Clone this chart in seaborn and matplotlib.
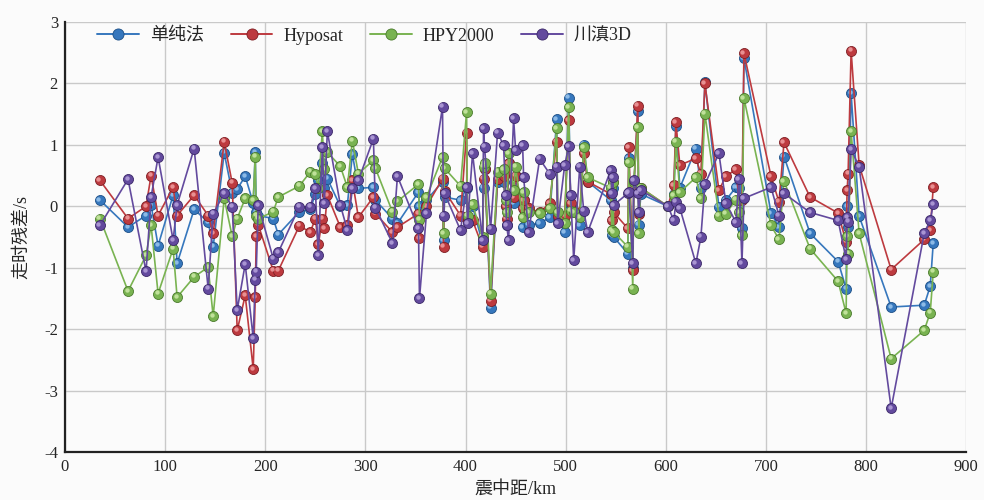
import numpy as np
import pandas as pd
import seaborn as sns
import matplotlib
matplotlib.use('Agg')
import matplotlib.pyplot as plt
from matplotlib.lines import Line2D
from matplotlib.transforms import offset_copy

# epicentral distance (km) of each station
dist = [35, 63, 81, 86, 93, 108, 112, 129, 143, 148,
        159, 167, 172, 180, 188, 190, 191, 193, 208, 213,
        234, 245, 250, 253, 257, 259, 262, 275, 282, 287,
        293, 308, 310, 327, 332, 353, 354, 361, 377, 378,
        379, 395, 401, 402, 407, 417, 418, 419, 425, 432,
        438, 440, 441, 443, 448, 450, 457, 458, 463, 474,
        484, 491, 492, 499, 503, 505, 508, 514, 518, 522,
        545, 546, 547, 548, 562, 563, 567, 568, 572, 573,
        575, 602, 608, 610, 614, 630, 635, 639, 653, 660,
        670, 673, 676, 678, 705, 713, 718, 744, 772, 780,
        781, 782, 785, 793, 825, 858, 864, 867]

# travel time residuals (s)
res_simple = [.10, -.34, -.15, .02, -.64, .18, -.93, -.05, -.26, -.66,
              .87, .22, .28, .49, .05, .88, -.10, -.15, -.20, -.46,
              -.09, -.05, .20, .42, .70, .30, .45, .00, .02, .85,
              .29, .31, .10, -.20, -.28, .23, .00, .10, .40, -.55,
              .15, .10, .30, -.20, .00, -.60, .30, .60, -1.65, .40,
              .40, .00, -.30, .70, .05, .50, -.34, .10, -.30, -.28,
              -.18, 1.42, -.20, -.42, 1.77, .00, -.10, -.31, 1.00, .40,
              .10, -.47, .30, -.50, -.77, .78, -1.00, .30, 1.55, -.30,
              .20, .00, .20, 1.30, .30, .94, .30, 2.02, -.01, .10,
              .31, .30, -.36, 2.41, -.11, -.34, .81, -.44, -.90, -1.34,
              .00, -.34, 1.84, -.16, -1.64, -1.61, -1.30, -.60]

res_hyposat = [.42, -.20, .00, .50, -.15, .31, -.15, .18, -.15, -.44,
               1.05, .38, -2.02, -1.45, -2.65, -1.48, -.49, -.30, -1.05, -1.05,
               -.32, -.42, -.20, -.62, -.20, -.36, .18, -.34, -.31, .42,
               -.18, .15, -.12, -.42, -.34, -.12, -.52, .00, .45, -.66,
               .25, -.15, 1.20, -.23, -.23, -.66, .45, .60, -1.54, .45,
               .50, .00, -.20, .70, .15, .50, -.03, .10, -.03, -.10,
               .05, 1.05, -.15, -.15, 1.40, .05, -.10, -.10, .86, .40,
               .20, -.23, .40, -.10, -.36, .96, -1.04, .30, 1.64, -.12,
               .30, .00, .34, 1.37, .67, .78, .53, 2.00, .26, .49,
               .60, .10, .10, 2.49, .49, .07, 1.04, .15, -.11, -.58,
               .26, .53, 2.53, .67, -1.03, -.54, -.39, .31]

res_hpy2000 = [-.20, -1.38, -.80, -.31, -1.42, -.69, -1.48, -1.15, -.99, -1.79,
               .13, -.49, -.20, .13, .10, .81, -.15, -.20, -.09, .15,
               .33, .56, .52, .30, 1.22, .60, .88, .65, .31, 1.07,
               .53, .75, .62, -.09, .08, .36, -.22, .15, .80, -.44,
               .62, .33, 1.53, -.15, .03, -.50, .64, .70, -1.42, .56,
               .60, .10, -.10, .86, .26, .64, -.18, .23, -.10, -.11,
               -.03, 1.27, -.10, -.28, 1.61, -.07, -.10, -.18, .96, .47,
               .30, -.39, .40, -.42, -.66, .72, -1.34, .40, 1.29, -.44,
               .30, .00, .18, 1.05, .23, .47, .13, 1.51, -.15, -.12,
               .11, -.10, -.47, 1.76, -.31, -.54, .41, -.69, -1.22, -1.74,
               -.49, -.77, 1.22, -.44, -2.48, -2.02, -1.73, -1.07]

res_cd3d = [-.31, .44, -1.06, .15, .80, -.55, .02, .94, -1.34, -.12,
            .21, -.01, -1.69, -.94, -2.15, -1.20, -1.07, .02, -.85, -.75,
            -.01, -.01, .29, -.80, .96, .05, 1.22, .02, -.39, .29,
            .42, 1.10, -.02, -.60, .49, -.36, -1.50, -.11, 1.62, -.15,
            .21, -.39, .31, -.28, .86, -.55, 1.27, .97, -.37, 1.20,
            .99, .18, -.31, -.55, 1.43, .91, .99, .47, -.42, .77,
            .53, .64, -.28, .67, .98, .18, -.88, .64, -.07, -.42,
            .59, .21, .47, .02, .21, .23, -.93, .42, .21, -.10,
            .26, .00, -.23, .07, -.03, -.93, -.50, .36, .86, .05,
            -.26, .44, -.93, .13, .31, -.15, .21, -.10, -.23, -.86,
            -.18, -.25, .93, .64, -3.29, -.44, -.23, .03]

methods = ['单纯法', 'Hyposat', 'HPY2000', '川滇3D']
series = [res_simple, res_hyposat, res_hpy2000, res_cd3d]
line_colors = ['#3677bd', '#bd3a3f', '#79b351', '#634a9e']
edge_colors = ['#1d4f86', '#7e1f24', '#4a7a2c', '#3b2868']
hi_colors = ['#9cc6ee', '#f0a0a2', '#cdeaa8', '#b6a3dc']

df = pd.concat([pd.DataFrame({'dist': dist, 'res': s, 'method': m})
                for m, s in zip(methods, series)], ignore_index=True)

sns.set_style('white')
plt.rcParams['font.family'] = ['Liberation Serif', 'Noto Sans CJK SC']
plt.rcParams['axes.unicode_minus'] = False

fig = plt.figure(figsize=(9.84, 5.0), dpi=100)
fig.patch.set_facecolor('#fbfbfb')
ax = fig.add_axes([0.066, 0.096, 0.916, 0.86])
ax.set_facecolor('#fbfbfb')

hi_trans = offset_copy(ax.transData, fig=fig, x=-1.1, y=1.1, units='points')

for i, m in enumerate(methods):
    sub = df[df['method'] == m]
    sns.lineplot(data=sub, x='dist', y='res', estimator=None, sort=False,
                 color=line_colors[i], linewidth=1.2, ax=ax, zorder=3 + i * 3)
    ax.scatter(sub['dist'], sub['res'], s=52, color=line_colors[i],
               edgecolor=edge_colors[i], linewidth=0.6, zorder=4 + i * 3)
    ax.scatter(sub['dist'], sub['res'], s=10, color=hi_colors[i], alpha=0.85,
               linewidth=0, transform=hi_trans, zorder=5 + i * 3)

ax.set_xlim(0, 900)
ax.set_ylim(-4, 3)
ax.set_xticks(range(0, 901, 100))
ax.set_yticks(range(-4, 4))
ax.grid(True, color='#c9c9c9', linewidth=1.0)
ax.set_axisbelow(True)
for side in ['top', 'right']:
    ax.spines[side].set_visible(False)
for side in ['left', 'bottom']:
    ax.spines[side].set_color('#222222')
    ax.spines[side].set_linewidth(1.6)
ax.tick_params(length=0, labelsize=12, pad=5)

ax.set_xlabel('震中距/km', fontsize=13, labelpad=4)
ax.set_ylabel('走时残差/s', fontsize=13, labelpad=10)

handles = [Line2D([0], [0], color=line_colors[i], linewidth=1.4, marker='o',
                  markersize=8, markerfacecolor=line_colors[i],
                  markeredgecolor=edge_colors[i], markeredgewidth=0.6)
           for i in range(4)]
leg = ax.legend(handles, methods, loc='upper left', bbox_to_anchor=(0.018, 1.025),
                ncol=4, frameon=False, fontsize=13, handlelength=2.3,
                columnspacing=1.5, handletextpad=0.6)
leg.set_zorder(30)

fig.savefig('out.png', dpi=100, facecolor=fig.get_facecolor())
